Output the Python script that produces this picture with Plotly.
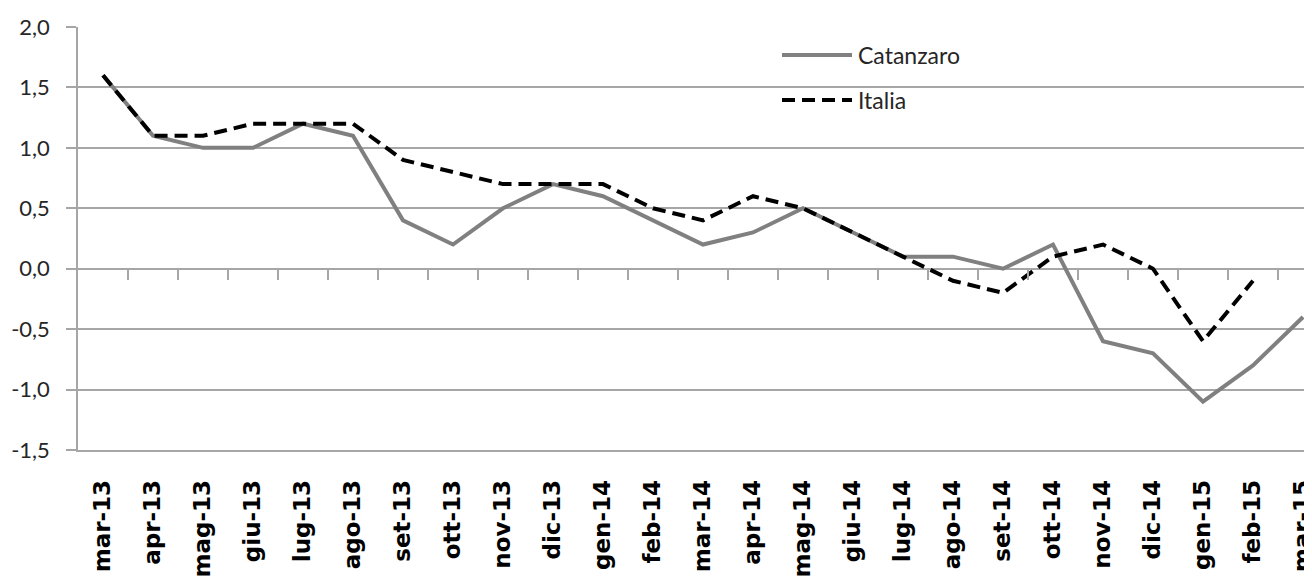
import plotly.graph_objects as go

months = ["mar-13", "apr-13", "mag-13", "giu-13", "lug-13", "ago-13", "set-13", "ott-13",
          "nov-13", "dic-13", "gen-14", "feb-14", "mar-14", "apr-14", "mag-14", "giu-14",
          "lug-14", "ago-14", "set-14", "ott-14", "nov-14", "dic-14", "gen-15", "feb-15", "mar-15"]
catanzaro = [1.6, 1.1, 1.0, 1.0, 1.2, 1.1, 0.4, 0.2, 0.5, 0.7, 0.6, 0.4, 0.2, 0.3, 0.5, 0.3,
             0.1, 0.1, 0.0, 0.2, -0.6, -0.7, -1.1, -0.8, -0.4]
italia = [1.6, 1.1, 1.1, 1.2, 1.2, 1.2, 0.9, 0.8, 0.7, 0.7, 0.7, 0.5, 0.4, 0.6, 0.5, 0.3,
          0.1, -0.1, -0.2, 0.1, 0.2, 0.0, -0.6, -0.1, None]
y_ticks = [-1.5, -1.0, -0.5, 0.0, 0.5, 1.0, 1.5, 2.0]
y_tick_labels = ["-1,5", "-1,0", "-0,5", "0,0", "0,5", "1,0", "1,5", "2,0"]

# page has an 8px body margin; size the figure so it fills the 1312x579 window
OFF = 8
W, H = 1312 - OFF, 579 - OFF
ML, MT, MB = 78 - OFF, 27 - OFF, 129
PW, PH = W - ML, H - MT - MB
idx = list(range(len(months)))
x_range = [-0.5, -0.5 + PW / 50.0]
y_range = [y_ticks[0], y_ticks[-1]]

GRID = "#a6a6a6"

fig = go.Figure()
fig.add_trace(go.Scatter(x=idx, y=catanzaro, mode="lines", name="Catanzaro",
                         line=dict(color="#808080", width=4), showlegend=False))
fig.add_trace(go.Scatter(x=idx, y=italia, mode="lines", name="Italia",
                         line=dict(color="#000000", width=4, dash="13px,7px"), showlegend=False))
fig.add_trace(go.Scatter(x=[None], y=[None], xaxis="x2", showlegend=False, hoverinfo="skip"))

zero_pos = (0 - y_range[0]) / (y_range[1] - y_range[0])

fig.update_layout(
    width=W, height=H,
    margin=dict(l=ML, r=0, t=MT, b=MB, pad=0),
    paper_bgcolor="white", plot_bgcolor="white",
    xaxis=dict(range=x_range, tickvals=idx, ticktext=months, tickangle=-90,
               showgrid=False, zeroline=False, showline=True, linecolor=GRID, linewidth=1.5,
               ticks="", ticklabelstandoff=19, automargin=False, ticklabeloverflow="allow",
               tickfont=dict(family="DejaVu Sans", size=23, color="#000000", weight="bold")),
    xaxis2=dict(range=x_range, overlaying="x", anchor="free", position=zero_pos,
                tickvals=[i + 0.5 for i in idx[:-1]], ticks="outside", ticklen=10,
                tickcolor=GRID, tickwidth=1.5, showticklabels=False, showgrid=False,
                zeroline=False, showline=False),
    yaxis=dict(range=y_range, tickvals=y_ticks, ticktext=y_tick_labels, showgrid=True,
               gridcolor=GRID, gridwidth=1.5, zeroline=False, showline=True,
               linecolor=GRID, linewidth=1.5, ticks="outside", ticklen=10, tickcolor=GRID,
               tickwidth=1.5, ticklabelstandoff=12, automargin=False,
               tickfont=dict(family="Lato", size=22, color="#262626")),
)

def px_x(p):
    return (p - OFF - ML) / PW

def px_y(p):
    return (MT + PH - (p - OFF)) / PH

legend_items = [("Catanzaro", dict(color="#808080", width=4), 55),
                ("Italia", dict(color="#000000", width=4, dash="13px,7px"), 100)]
for name, ln, py in legend_items:
    fig.add_shape(type="line", xref="paper", yref="paper", x0=px_x(782), x1=px_x(852),
                  y0=px_y(py), y1=px_y(py), line=ln)
    fig.add_annotation(xref="paper", yref="paper", x=px_x(856), y=px_y(py), text=name,
                       showarrow=False, xanchor="left", yanchor="middle",
                       font=dict(family="Lato", size=23, color="#262626"))

fig.write_html("out.html")
